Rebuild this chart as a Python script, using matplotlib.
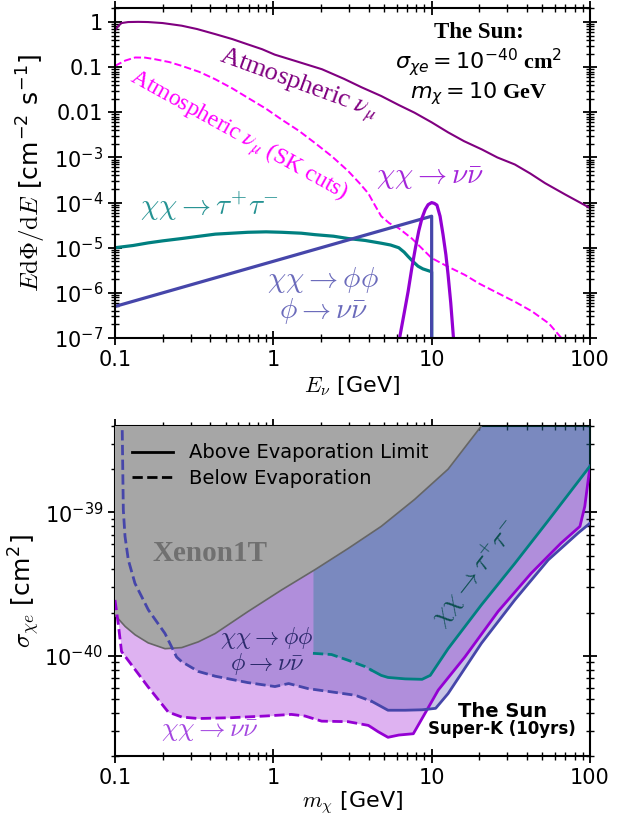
import numpy as np
import matplotlib
matplotlib.use('Agg')
import matplotlib.pyplot as plt
from matplotlib.lines import Line2D
from matplotlib.ticker import LogLocator, FuncFormatter, NullFormatter, FixedLocator

# ---------------- data: top panel (neutrino fluxes) ----------------
E_atm = [0.1, 0.105, 0.11, 0.121, 0.14, 0.162, 0.2, 0.264, 0.33, 0.43, 0.55, 0.69, 0.85, 1.02, 1.4,
         2.03, 2.8, 3.6, 4.8, 6.2, 7.8, 10, 12.7, 16, 20.8, 26, 33.5, 42, 52, 70, 100]
F_atm = [0.65, 0.82, 0.95, 1.0, 1.01, 1.0, 0.95, 0.83, 0.7, 0.54, 0.42, 0.32, 0.25, 0.19, 0.135,
         0.09, 0.055, 0.036, 0.023, 0.0145, 0.0098, 0.006, 0.0036, 0.0023, 1.5e-3, 1.0e-3, 7e-4,
         4.4e-4, 2.7e-4, 1.5e-4, 7.6e-5]

E_sk = [0.1, 0.116, 0.134, 0.155, 0.179, 0.22, 0.264, 0.34, 0.43, 0.55, 0.69, 0.9, 1.13, 1.45, 1.83,
        2.35, 2.97, 3.5, 3.98, 4.4, 4.8, 5.4, 6.2, 7.5, 10, 12.5, 16.2, 20, 26, 34, 43, 55, 66, 80]
F_sk = [0.107, 0.14, 0.164, 0.163, 0.15, 0.13, 0.107, 0.079, 0.054, 0.034, 0.021, 0.012, 6.9e-3,
        3.9e-3, 2.1e-3, 1.05e-3, 5e-4, 2.7e-4, 1.6e-4, 8.5e-5, 5e-5, 3.5e-5, 2.7e-5, 1.6e-5, 5.9e-6,
        3.9e-6, 2.5e-6, 1.6e-6, 1e-6, 6.2e-7, 3.9e-7, 2.1e-7, 1e-7, 5e-8]

E_tau = [0.1, 0.13, 0.162, 0.2, 0.264, 0.43, 0.69, 0.9, 1.13, 1.5, 1.83, 2.4, 2.97, 3.8, 4.8, 5.5,
         6.2, 6.7, 7.1, 7.6, 8.2, 8.8, 9.8, 10.0, 10.0]
F_tau = [1e-5, 1.12e-5, 1.28e-5, 1.42e-5, 1.6e-5, 2.0e-5, 2.2e-5, 2.25e-5, 2.2e-5, 2.1e-5, 1.95e-5,
         1.8e-5, 1.6e-5, 1.45e-5, 1.26e-5, 1.15e-5, 1e-5, 8e-6, 6.4e-6, 5e-6, 3.9e-6, 3.4e-6, 3e-6,
         2.9e-6, 1e-8]

E_phi = [0.1, 0.3, 1.0, 3.0, 10.0, 10.0]
F_phi = [5e-7, 1.5e-6, 5e-6, 1.5e-5, 5e-5, 1e-8]

E_nn = [6.2, 6.7, 7.1, 7.5, 7.9, 8.3, 8.7, 9.1, 9.5, 10.0, 10.4, 10.8, 11.3, 11.8, 12.3, 12.7, 13.2, 13.8]
F_nn = [8e-8, 3.5e-7, 1.07e-6, 3.6e-6, 1e-5, 2.4e-5, 4.6e-5, 7e-5, 9e-5, 1e-4, 9.6e-5, 8.8e-5,
        5e-5, 1.95e-5, 7e-6, 2.5e-6, 6e-7, 8e-8]

flux_ticks = [1e-7, 1e-6, 1e-5, 1e-4, 1e-3, 1e-2, 1e-1, 1.0]

# ---------------- data: bottom panel (limits) ----------------
m_xe = [0.1, 0.116, 0.134, 0.162, 0.207, 0.264, 0.336, 0.43, 0.69, 1.13, 1.83, 2.97, 4.8, 7.8, 12.7, 20.6, 25]
s_xe = [1.92e-40, 1.6e-40, 1.4e-40, 1.23e-40, 1.12e-40, 1.14e-40, 1.25e-40, 1.43e-40, 2.03e-40,
        2.88e-40, 3.98e-40, 5.6e-40, 7.98e-40, 1.23e-39, 2.0e-39, 4.0e-39, 5.5e-39]

m_nn = [0.1, 0.1048, 0.110, 0.162, 0.217, 0.264, 0.336, 0.545, 0.887, 1.30, 1.585, 2.02, 2.97, 3.98, 4.2,
        4.6, 5.3, 6.2, 7.66, 9.06, 11.0, 16.2, 26.3, 42.6, 65.6, 86.4, 92.7, 100]
s_nn = [2.45e-40, 1.68e-40, 1.07e-40, 6.06e-41, 4.05e-41, 3.74e-41, 3.65e-41, 3.7e-41, 3.8e-41, 3.9e-41,
        3.8e-41, 3.5e-41, 3.47e-41, 3.27e-41, 3.15e-41, 2.95e-41, 2.7e-41, 2.8e-41, 2.86e-41, 3.95e-41,
        5.76e-41, 9.8e-41, 2.04e-40, 3.77e-40, 6.1e-40, 7.98e-40, 1.1e-39, 2.1e-39]

m_ph = [0.1105, 0.1129, 0.1157, 0.1214, 0.1337, 0.1624, 0.207, 0.245, 0.2637, 0.3364, 0.43, 0.69, 1.024,
        1.25, 1.66, 2.33, 3.3, 4.2, 5.3, 6.8, 8.7, 10.6, 12.7, 20.6, 33.5, 54.5, 84.5, 100]
s_ph = [6e-39, 1.04e-39, 6.8e-40, 4.66e-40, 3.2e-40, 2.09e-40, 1.43e-40, 9.8e-41, 9.1e-41, 7.77e-41,
        7.2e-41, 6.5e-41, 6.1e-41, 6.4e-41, 5.9e-41, 5.6e-41, 5.3e-41, 4.8e-41, 4.17e-41, 4.17e-41,
        4.2e-41, 4.3e-41, 5.45e-41, 1.22e-40, 2.45e-40, 4.66e-40, 7.2e-40, 8.4e-40]

m_tt = [1.78, 2.33, 2.97, 3.8, 4.2, 4.8, 5.3, 6.8, 8.7, 9.8, 12.7, 20.6, 33.5, 54, 100]
s_tt = [1.04e-40, 1.02e-40, 9.3e-41, 8.4e-41, 7.9e-41, 7.3e-41, 7.06e-41, 6.9e-41, 6.85e-41, 7.3e-41,
        1.12e-40, 2.26e-40, 4.4e-40, 8.65e-40, 2.1e-39]

sigma_ticks = [1e-40, 1e-39]

m_evap = 4.2

x_ticks = [0.1, 1, 10, 100]
x_ticklabels = ['0.1', '1', '10', '100']

# ---------------- colours ----------------
c_atm = '#800080'
c_sk = '#ff00ff'
c_tt = '#008080'
c_ph = '#4646aa'
c_nn = '#9400d3'

fig = plt.figure(figsize=(6.3, 8.23), dpi=100)
ax1 = fig.add_axes([0.1825, 0.5893, 0.754, 0.401])
ax2 = fig.add_axes([0.1825, 0.0814, 0.754, 0.401])


def style_axes(ax):
    ax.set_xscale('log')
    ax.set_yscale('log')
    ax.set_xlim(0.1, 100)
    ax.xaxis.set_major_locator(FixedLocator(x_ticks))
    ax.xaxis.set_major_formatter(FuncFormatter(lambda v, p: x_ticklabels[x_ticks.index(v)] if v in x_ticks else ''))
    ax.xaxis.set_minor_locator(LogLocator(base=10, subs=np.arange(2, 10), numticks=20))
    ax.xaxis.set_minor_formatter(NullFormatter())
    ax.yaxis.set_minor_locator(LogLocator(base=10, subs=np.arange(2, 10), numticks=20))
    ax.yaxis.set_minor_formatter(NullFormatter())
    ax.tick_params(which='both', direction='inout', top=True, right=True, labelsize=15)
    ax.tick_params(which='major', length=10, width=1.3)
    ax.tick_params(which='minor', length=6, width=1.0)
    for s in ax.spines.values():
        s.set_linewidth(1.5)


def yfmt(v, p):
    e = int(round(np.log10(v)))
    if e == 0:
        return '1'
    if e == -1:
        return '0.1'
    if e == -2:
        return '0.01'
    return r'$\mathdefault{10^{%d}}$' % e


# ---------------- top panel ----------------
style_axes(ax1)
ax1.set_ylim(1e-7, 2.05)
ax1.yaxis.set_major_locator(FixedLocator(flux_ticks))
ax1.yaxis.set_major_formatter(FuncFormatter(yfmt))

ax1.plot(E_atm, F_atm, color=c_atm, lw=1.5)
ax1.plot(E_sk, F_sk, color=c_sk, lw=1.4, ls='--')
ax1.plot(E_tau, F_tau, color=c_tt, lw=2.3)
ax1.plot(E_phi, F_phi, color=c_ph, lw=2.3)
ax1.plot(E_nn, F_nn, color=c_nn, lw=2.3)

ax1.set_xlabel(r'$E_\nu$ [GeV]', fontsize=16, math_fontfamily='cm', labelpad=3)
ax1.set_ylabel(r'$E\mathrm{d}\Phi/\mathrm{d}E$ [cm$^{\mathdefault{-2}}$ s$^{\mathdefault{-1}}$]',
               fontsize=18, math_fontfamily='cm', labelpad=5)

serif = ['Liberation Serif', 'DejaVu Serif']
ax1.text(0.385, 0.765, r'Atmospheric $\nu_\mu$', transform=ax1.transAxes, ha='center', va='center',
         rotation=-20, color=c_atm, fontsize=19, family=serif, math_fontfamily='stix')
ax1.text(0.259, 0.612, r'Atmospheric $\nu_\mu$ (SK cuts)', transform=ax1.transAxes, ha='center',
         va='center', rotation=-29, color=c_sk, fontsize=17, family=serif, math_fontfamily='stix')
ax1.text(0.663, 0.485, r'$\chi\chi\rightarrow\nu\bar{\nu}$', transform=ax1.transAxes, ha='center',
         va='center', color=c_nn, alpha=0.85, fontsize=21, math_fontfamily='cm')
ax1.text(0.20, 0.40, r'$\chi\chi\rightarrow\tau^{+}\tau^{-}$', transform=ax1.transAxes, ha='center',
         va='center', color=c_tt, alpha=0.85, fontsize=21, math_fontfamily='cm')
ax1.text(0.438, 0.13, '$\\chi\\chi\\rightarrow\\phi\\phi$\n$\\phi\\rightarrow\\nu\\bar{\\nu}$',
         transform=ax1.transAxes, ha='center', va='center', color=c_ph, alpha=0.8, fontsize=21,
         math_fontfamily='cm', linespacing=1.05)

ax1.text(0.766, 0.926, 'The Sun:', transform=ax1.transAxes, ha='center', va='center', fontsize=16.5,
         family=serif, weight='bold')
ax1.text(0.766, 0.836, r'$\sigma_{\chi e} = 10^{-40}$ cm$^2$', transform=ax1.transAxes, ha='center',
         va='center', fontsize=16, family=serif, weight='bold', math_fontfamily='dejavusans')
ax1.text(0.766, 0.740, r'$m_\chi = 10$ GeV', transform=ax1.transAxes, ha='center', va='center',
         fontsize=16, family=serif, weight='bold', math_fontfamily='dejavusans')

# ---------------- bottom panel ----------------
style_axes(ax2)
ax2.set_ylim(2e-41, 4e-39)
ax2.yaxis.set_major_locator(FixedLocator(sigma_ticks))

top = 1e-37
ax2.fill_between(m_nn, s_nn, top, color=c_nn, alpha=0.3, lw=0, zorder=1)
ax2.fill_between(m_ph, s_ph, top, color='#483daa', alpha=0.3, lw=0, zorder=2)
ax2.fill_between(m_tt, s_tt, top, color=c_tt, alpha=0.3, lw=0, zorder=3)
ax2.fill_between(m_xe, s_xe, top, facecolor='#a6a6a6', edgecolor='none', zorder=4)
ax2.plot(m_xe, s_xe, color='#666666', lw=1.2, zorder=4.5)


def plot_split(ax, x, y, color, lw):
    x = np.asarray(x)
    y = np.asarray(y)
    lo = x <= m_evap
    hi = x >= m_evap
    ax.plot(x[lo], y[lo], color=color, lw=lw, ls='--', zorder=5)
    ax.plot(x[hi], y[hi], color=color, lw=lw, ls='-', zorder=5)


plot_split(ax2, m_nn, s_nn, c_nn, 2.0)
plot_split(ax2, m_ph, s_ph, c_ph, 2.0)
plot_split(ax2, m_tt, s_tt, c_tt, 2.0)

ax2.set_xlabel(r'$m_\chi$ [GeV]', fontsize=16, math_fontfamily='cm', labelpad=1)
ax2.set_ylabel(r'$\sigma_{\chi e}$ [cm$^{\mathdefault{2}}$]', fontsize=18, math_fontfamily='cm', labelpad=2)

ax2.text(0.20, 0.615, 'Xenon1T', transform=ax2.transAxes, ha='center', va='center', fontsize=21,
         family=serif, weight='bold', color='#707070', zorder=6)
ax2.text(0.758, 0.555, r'$\chi\chi\rightarrow\tau^{+}\tau^{-}$', transform=ax2.transAxes, ha='center',
         va='center', rotation=52, fontsize=19, color='#0c4f4f', math_fontfamily='cm', zorder=6)
ax2.text(0.32, 0.318, '$\\chi\\chi\\rightarrow\\phi\\phi$\n$\\phi\\rightarrow\\nu\\bar{\\nu}$',
         transform=ax2.transAxes, ha='center', va='center', fontsize=17.5, color='#2b2a6b',
         math_fontfamily='cm', linespacing=1.0, zorder=6)
ax2.text(0.20, 0.076, r'$\chi\chi\rightarrow\nu\bar{\nu}$', transform=ax2.transAxes, ha='center',
         va='center', fontsize=19, color='#a346e0', math_fontfamily='cm', zorder=6)
ax2.text(0.815, 0.136, 'The Sun', transform=ax2.transAxes, ha='center', va='center', fontsize=14,
         weight='bold', zorder=6)
ax2.text(0.815, 0.082, 'Super-K (10yrs)', transform=ax2.transAxes, ha='center', va='center',
         fontsize=12, weight='bold', zorder=6)

handles = [Line2D([], [], color='k', lw=2, ls='-'), Line2D([], [], color='k', lw=2, ls='--')]
leg = ax2.legend(handles, ['Above Evaporation Limit', 'Below Evaporation'], loc='upper left',
                 frameon=False, fontsize=14, handlelength=2.1, handletextpad=0.8, labelspacing=0.35)
leg.set_zorder(7)

fig.savefig('out.png', dpi=100)
